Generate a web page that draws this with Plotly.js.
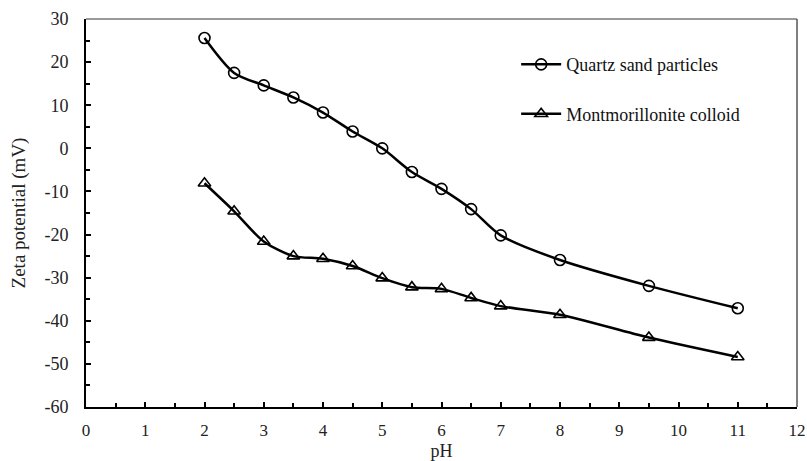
<!DOCTYPE html>
<html>
<head>
<meta charset="utf-8">
<script src="https://cdn.plot.ly/plotly-3.0.1.min.js"></script>
<style>html,body{margin:0;padding:0;background:#fff;}#chart{width:807px;height:461px;}</style>
</head>
<body>
<div id="chart"></div>
<script>
const pH = [2, 2.5, 3, 3.5, 4, 4.5, 5, 5.5, 6, 6.5, 7, 8, 9.5, 11];
const quartzZeta = [25.6, 17.5, 14.6, 11.8, 8.3, 3.9, 0, -5.5, -9.4, -14.1, -20.2, -25.9, -31.9, -37.1];
const montZeta = [-8.1, -14.6, -21.6, -25.0, -25.6, -27.3, -30.1, -32.2, -32.6, -34.7, -36.6, -38.6, -43.9, -48.4];
const seriesNames = ['Quartz sand particles', 'Montmorillonite colloid'];
const xTicks = [0,1,2,3,4,5,6,7,8,9,10,11,12];
const yTicks = [-60,-50,-40,-30,-20,-10,0,10,20,30];

const font = 'Liberation Serif, Times New Roman, serif';
const traces = [
  {x: pH, y: quartzZeta, name: seriesNames[0], legendgroup: 'a', mode: 'lines+markers',
   line: {color: '#000', width: 2.5, shape: 'spline', smoothing: 0.8},
   marker: {symbol: 'circle-open', size: 11, color: '#000', line: {width: 1.6, color: '#000'}}},
  {x: pH, y: montZeta, name: seriesNames[1], legendgroup: 'b', mode: 'lines+markers',
   line: {color: '#000', width: 2.5, shape: 'spline', smoothing: 0.8},
   marker: {symbol: 'triangle-up-open', size: 11, color: '#000', line: {width: 1.6, color: '#000'}}}
];
const layout = {
  width: 807, height: 461,
  margin: {l: 86, r: 10, t: 19, b: 54},
  paper_bgcolor: '#fff', plot_bgcolor: '#fff',
  font: {family: font, color: '#222', size: 18},
  showlegend: true,
  legend: {x: 0.605, y: 0.93, xanchor: 'left', yanchor: 'top', bgcolor: 'rgba(0,0,0,0)', itemwidth: 40,
           font: {family: font, size: 18, color: '#111'}, tracegroupgap: 23, traceorder: 'grouped'},
  xaxis: {range: [0, 12], tickvals: xTicks, ticktext: xTicks.map(String), ticks: 'inside', ticklen: 5, tickwidth: 2,
          tickcolor: '#000', showline: true, linecolor: '#000', linewidth: 2, showgrid: false, zeroline: false,
          tickfont: {family: font, size: 17, color: '#222'}, ticklabelstandoff: 7,
          minor: {dtick: 0.5, ticks: 'inside', ticklen: 4, tickwidth: 2, tickcolor: '#000', showgrid: false},
          title: {text: 'pH', font: {family: font, size: 18, color: '#222'}, standoff: 6}},
  yaxis: {range: [-60, 30], tickvals: yTicks, ticktext: yTicks.map(String), ticks: 'inside', ticklen: 5, tickwidth: 2,
          tickcolor: '#000', showline: true, linecolor: '#000', linewidth: 2, showgrid: false, zeroline: false,
          tickfont: {family: font, size: 18, color: '#222'}, ticklabelstandoff: 12,
          minor: {dtick: 5, ticks: 'inside', ticklen: 4, tickwidth: 2, tickcolor: '#000', showgrid: false},
          title: {text: 'Zeta potential (mV)', font: {family: font, size: 19, color: '#222'}, standoff: 14}},
  shapes: [
    {type: 'line', xref: 'paper', yref: 'paper', x0: 0, x1: 1, y0: 1, y1: 1, line: {color: '#777', width: 1.5}, layer: 'below'},
    {type: 'line', xref: 'paper', yref: 'paper', x0: 1, x1: 1, y0: 0, y1: 1, line: {color: '#555', width: 1.5}, layer: 'below'}
  ]
};
Plotly.newPlot('chart', traces, layout, {displayModeBar: false, staticPlot: true});
</script>
</body>
</html>
